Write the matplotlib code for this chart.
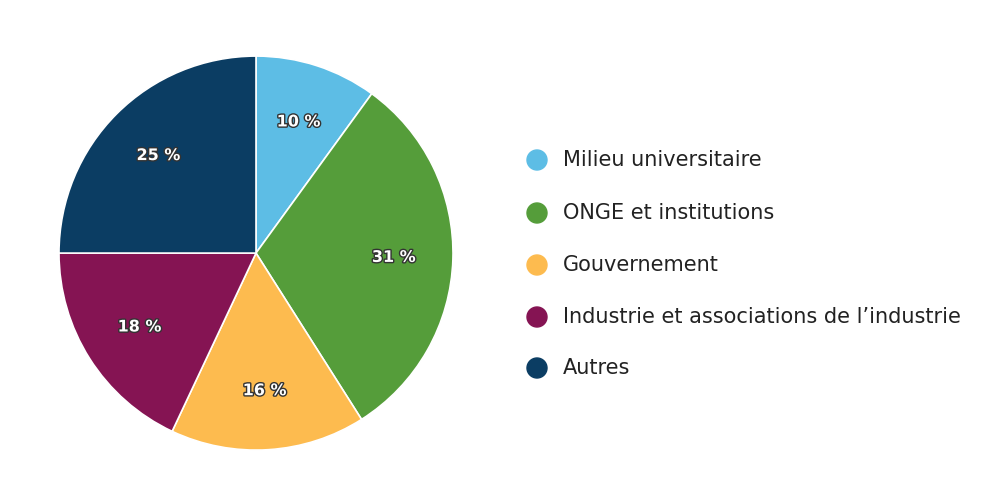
import matplotlib
matplotlib.use("Agg")
import matplotlib.pyplot as plt
import matplotlib.patheffects as pe
from matplotlib.patches import Circle

categories = ["Milieu universitaire", "ONGE et institutions", "Gouvernement",
              "Industrie et associations de l\u2019industrie", "Autres"]
values = [10, 31, 16, 18, 25]
colors = ["#5dbde5", "#559d3a", "#fdbb4f", "#851453", "#0b3d63"]

fig = plt.figure(figsize=(10, 5.04), dpi=100)
ax = fig.add_axes([0.059, 0.107, 0.394, 394/504])
wedges, texts, autotexts = ax.pie(values, colors=colors, startangle=90, counterclock=False,
       autopct=lambda p: f"{p:.0f} %", pctdistance=0.7,
       wedgeprops=dict(edgecolor="white", linewidth=1.2))
for t in autotexts:
    t.set_color("white"); t.set_fontweight("bold"); t.set_fontsize(11.5)
    t.set_path_effects([pe.withStroke(linewidth=2, foreground="#333333")])
ax.set_aspect("equal")
ax.set_xlim(-1, 1); ax.set_ylim(-1, 1)

ys = [160, 213, 265, 317, 368]
for c, lab, y in zip(colors, categories, ys):
    yf = 1 - y/504
    fig.add_artist(Circle((5.37, yf*5.04), 0.10, transform=fig.dpi_scale_trans, color=c))
    fig.text(563/1000, yf, lab, fontsize=15, va="center", ha="left", color="#222222")

fig.savefig("out.png", dpi=100)
